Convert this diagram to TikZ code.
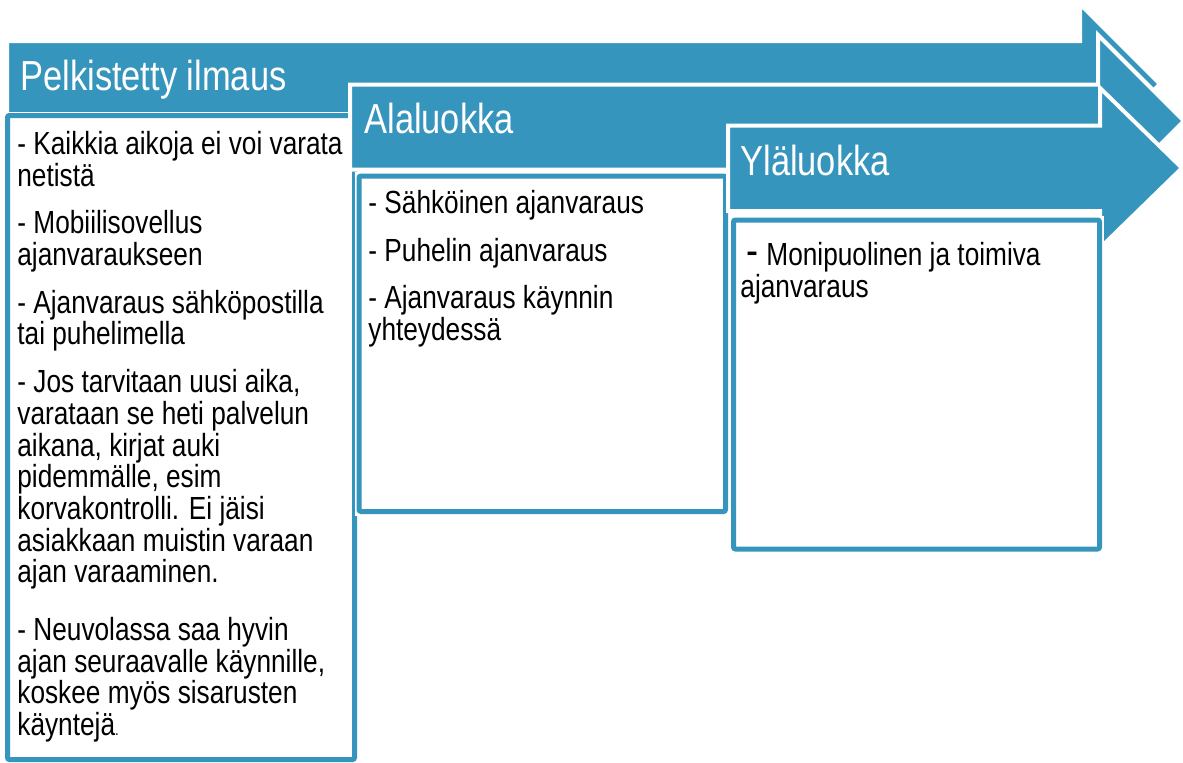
\documentclass[tikz,border=0pt]{standalone}
\usepackage{fontspec}
\setmainfont{Liberation Sans}[FakeStretch=0.82]
\definecolor{sablue}{RGB}{54,149,189}
\newcommand{\fl}{\rule{0pt}{12pt}}
\begin{document}
\begin{tikzpicture}[x=0.5pt,y=-0.5pt,
  arrowshape/.style={fill=sablue, draw=white, line width=2pt, line join=miter},
  boxback/.style={draw=white, fill=white, line width=4pt},
  boxline/.style={draw=sablue, line width=2.5pt, rounded corners=1pt},
  headtext/.style={text=white, font=\fontsize{21}{21}\selectfont, inner sep=0pt, anchor=base west},
  bodytext/.style={text=black, font=\fontsize{16}{15.85}\selectfont, inner sep=0pt, anchor=north west, align=left},
]
\useasboundingbox (0,0) rectangle (1183,762);
% arrow 1
\path[arrowshape] (7,41) -- (1080,41) -- (1080,4) -- (1160,84) -- (1080,164) -- (1080,127) -- (7,127) -- cycle;
% box 1
\path[boxback] (7.5,115.5) rectangle (354.5,759.5);
\path[boxline] (7.5,115.5) rectangle (354.5,759.5);
% arrow 2
\path[arrowshape] (350,84.5) -- (1098,84.5) -- (1098,35) -- (1184,121) -- (1098,207) -- (1098,169.5) -- (350,169.5) -- cycle;
% box 2
\path[boxback] (359,176) rectangle (725.5,511.5);
\path[boxline] (359,176) rectangle (725.5,511.5);
% arrow 3
\path[arrowshape] (728,125.5) -- (1100,125.5) -- (1100,88) -- (1182,168) -- (1100,248) -- (1100,211) -- (728,211) -- cycle;
% box 3
\path[boxback] (733.5,220) rectangle (1099.5,549);
\path[boxline] (733.5,220) rectangle (1099.5,549);
% headers
\node[headtext] (h1) at (20,90) {Pelkistetty ilmaus};
\node[headtext] (h2) at (364,133) {Alaluokka};
\node[headtext] (h3) at (740,175) {Yläluokka};
% body texts
\node[bodytext] (b1) at (17,130) {\fl- Kaikkia aikoja ei voi varata\\netistä\\[8pt]- Mobiilisovellus\\ajanvaraukseen\\[8pt]- Ajanvaraus sähköpostilla\\tai puhelimella\\[8pt]- Jos tarvitaan uusi aika,\\varataan se heti palvelun\\aikana, kirjat auki\\pidemmälle, esim\\korvakontrolli. Ei jäisi\\asiakkaan muistin varaan\\ajan varaaminen.\\[13pt]- Neuvolassa saa hyvin\\ajan seuraavalle käynnille,\\koskee myös sisarusten\\käyntejä{\fontsize{8}{8}\selectfont .}};
\node[bodytext] (b2) at (368,189) {\fl- Sähköinen ajanvaraus\\[8pt]- Puhelin ajanvaraus\\[8pt]- Ajanvaraus käynnin\\yhteydessä};
\node[bodytext] (b3) at (740,241) {\fl\hspace*{3pt}{\fontsize{22}{22}\selectfont -}\hspace{4pt}Monipuolinen ja toimiva\\ajanvaraus};
\end{tikzpicture}
\end{document}
